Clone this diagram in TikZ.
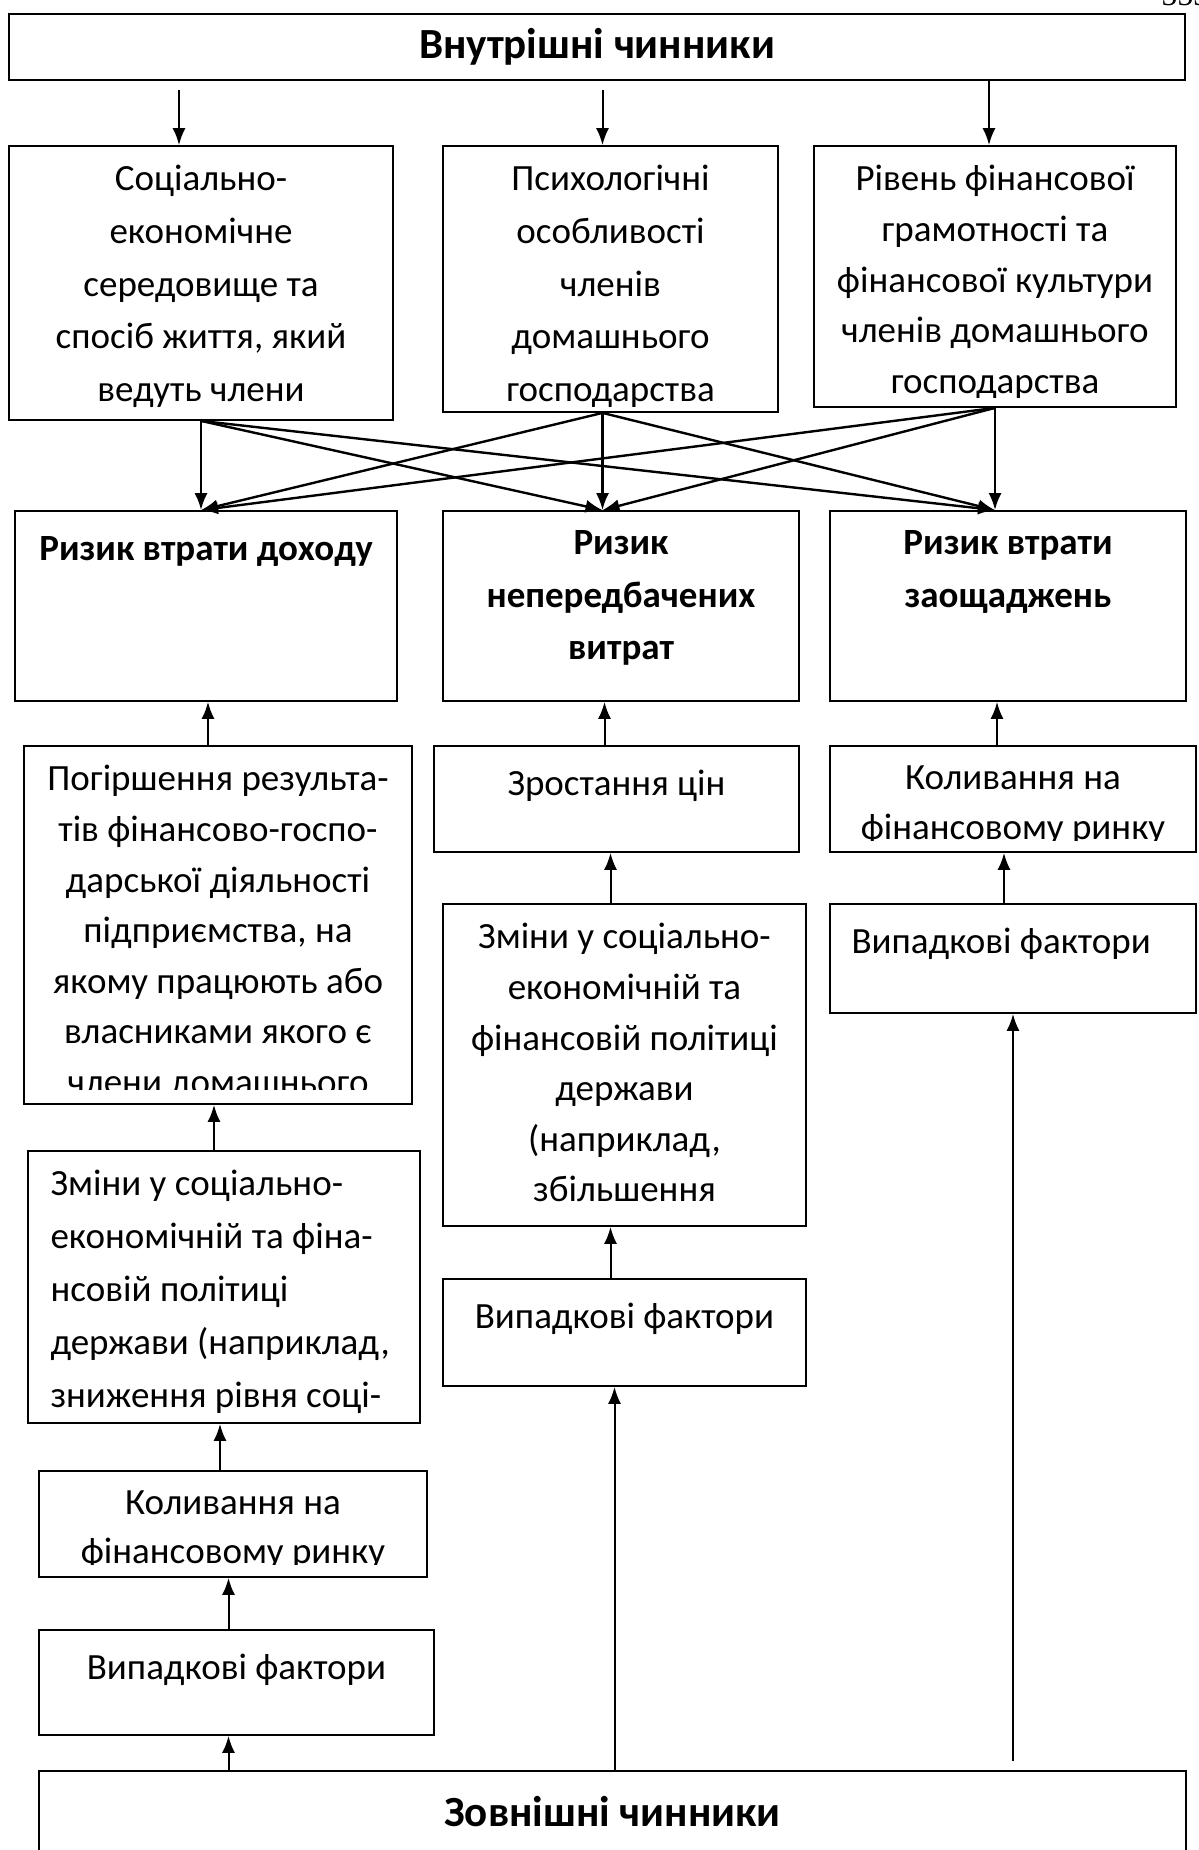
\documentclass[tikz,border=0pt]{standalone}
\usepackage{fontspec}
\setmainfont{Carlito}
\newfontfamily\pagefont{Liberation Serif}
\usetikzlibrary{fit,arrows.meta}

\begin{document}
\begin{tikzpicture}[x=0.5pt, y=-0.5pt,
    box/.style={draw, line width=0.9pt, inner sep=0pt},
    txt/.style={anchor=north, align=center, inner sep=0pt, yshift=-10pt,
        font=\fontsize{18.5pt}{#1}\selectfont,
        execute at begin node={\rule{0pt}{15pt}}},
    txt/.default=26.3pt,
    ttl/.style={txt, font=\fontsize{18.5pt}{26.3pt}\selectfont\bfseries},
    head/.style={font=\fontsize{21.5pt}{26pt}\selectfont\bfseries},
    arr/.style={line width=1pt, -{Latex[length=8.5pt,width=6.5pt]}},
    cross/.style={arr, line width=1.2pt}]
    \useasboundingbox (0,0) rectangle (1198,1850);

    \node[anchor=base west, inner sep=0pt, font=\pagefont\fontsize{16pt}{16pt}\selectfont] (pagenum) at (1161,6) {553};

    % --------
    % Internal factors
    % --------
    \node[box, fit={(9,14) (1185,80)}] (inner) {};
    \node[head] at (inner.center) {Внутрішні чинники};

    \node[box, fit={(9,146) (393,420)}] (socio) {};
    \node[txt] at (socio.north) {Соціально-\\економічне\\середовище та\\спосіб життя, який\\ведуть члени};

    \node[box, fit={(443,146) (778,412)}] (psycho) {};
    \begin{scope}
        \clip (psycho.north west) rectangle ([yshift=3pt]psycho.south east);
        \node[txt] at (psycho.north) {Психологічні\\особливості\\членів\\домашнього\\господарства};
    \end{scope}

    \node[box, fit={(814,146) (1176,407)}] (literacy) {};
    \begin{scope}
        \clip (literacy.north west) rectangle ([yshift=5pt]literacy.south east);
        \node[txt=25.3pt] at (literacy.north) {Рівень фінансової\\грамотності та\\фінансової культури\\членів домашнього\\господарства};
    \end{scope}

    % --------
    % Risks
    % --------
    \node[box, fit={(15,511) (397,701)}] (income) {};
    \node[ttl] at (income.north) {Ризик втрати доходу};

    \node[box, fit={(443,511) (799,701)}] (unexp) {};
    \node[ttl] at (unexp.north) {Ризик\\непередбачених\\витрат};

    \node[box, fit={(830,511) (1186,701)}] (saving) {};
    \node[ttl] at (saving.north) {Ризик втрати\\заощаджень};

    % Draw lines
    \draw[arr, shorten <=4.5pt] ([xshift=-11pt]socio.north |- inner.south) -- ([xshift=-11pt]socio.north);
    \draw[arr, shorten <=4.5pt] ([xshift=-4pt]psycho.north |- inner.south) -- ([xshift=-4pt]psycho.north);
    \draw[arr] ([xshift=-3pt]literacy.north |- inner.south) -- ([xshift=-3pt]literacy.north);

    \draw[cross] (socio.south) -- (socio.south |- income.north);
    \draw[cross] (socio.south) -- ([xshift=-4pt]psycho.south |- unexp.north);
    \draw[cross] (socio.south) -- (literacy.south |- saving.north);
    \draw[cross] ([xshift=-4pt]psycho.south) -- (socio.south |- income.north);
    \draw[cross] ([xshift=-4pt]psycho.south) -- ([xshift=-4pt]psycho.south |- unexp.north);
    \draw[cross] ([xshift=-4pt]psycho.south) -- (literacy.south |- saving.north);
    \draw[cross] (literacy.south) -- (socio.south |- income.north);
    \draw[cross] (literacy.south) -- ([xshift=-4pt]psycho.south |- unexp.north);
    \draw[cross] (literacy.south) -- (literacy.south |- saving.north);

    % --------
    % Income column
    % --------
    \node[box, fit={(24,746) (412,1104)}] (decline) {};
    \begin{scope}
        \clip (decline.north west) rectangle ([yshift=7.5pt]decline.south east);
        \node[txt=25.3pt] at (decline.north) {Погіршення результа-\\тів фінансово-госпо-\\дарської діяльності\\підприємства, на\\якому працюють або\\власниками якого є\\члени домашнього};
    \end{scope}

    \node[box, fit={(28,1151) (420,1423)}] (policyL) {};
    \node[txt=26.4pt, anchor=north west, align=left] at ([xshift=11.5pt]policyL.north west) {Зміни у соціально-\\економічній та фіна-\\нсовій політиці\\держави (наприклад,\\зниження рівня соці-};

    \node[box, fit={(39,1471) (427,1577)}] (marketL) {};
    \begin{scope}
        \clip (marketL.north west) rectangle ([yshift=6.5pt]marketL.south east);
        \node[txt=24.8pt] at (marketL.north) {Коливання на\\фінансовому ринку};
    \end{scope}

    \node[box, fit={(39,1630) (434,1735)}] (randomL) {};
    \node[txt] at (randomL.north) {Випадкові фактори};

    % --------
    % Expenses column
    % --------
    \node[box, fit={(434,746) (799,852)}] (prices) {};
    \node[txt] at (prices.north) {Зростання цін};

    \node[box, fit={(443,904) (806,1226)}] (policyM) {};
    \node[txt=25.3pt] at (policyM.north) {Зміни у соціально-\\економічній та\\фінансовій політиці\\держави\\(наприклад,\\збільшення};

    \node[box, fit={(443,1279) (806,1386)}] (randomM) {};
    \node[txt] at (randomM.north) {Випадкові фактори};

    % --------
    % Savings column
    % --------
    \node[box, fit={(830,746) (1196,852)}] (marketR) {};
    \begin{scope}
        \clip (marketR.north west) rectangle ([yshift=6pt]marketR.south east);
        \node[txt=25pt] at (marketR.north) {Коливання на\\фінансовому ринку};
    \end{scope}

    \node[box, fit={(830,904) (1196,1013)}] (randomR) {};
    \node[txt, anchor=north west, align=left] at ([xshift=11pt]randomR.north west) {Випадкові фактори};

    % --------
    % External factors
    % --------
    \node[box, fit={(39,1771) (1186,1880)}] (outer) {};
    \node[head] at ([yshift=-20.5pt]outer.north) {Зовнішні чинники};

    % Draw lines
    \draw[arr] ([xshift=-5pt]decline.north) -- ([xshift=-5pt]decline.north |- income.south);
    \draw[arr] ([xshift=-6pt]prices.north) -- ([xshift=-6pt]prices.north |- unexp.south);
    \draw[arr] ([xshift=-8pt]marketR.north) -- ([xshift=-8pt]marketR.north |- saving.south);

    \draw[arr] ([xshift=-5pt]policyL.north) -- ([xshift=-5pt]policyL.north |- decline.south);
    \draw[arr] ([xshift=-6.5pt]marketL.north) -- ([xshift=-6.5pt]marketL.north |- policyL.south);
    \draw[arr] ([xshift=-4pt]randomL.north) -- ([xshift=-4pt]randomL.north |- marketL.south);
    \draw[arr] ([xshift=-4pt]outer.north -| randomL.south) -- ([xshift=-4pt]randomL.south);

    \draw[arr] ([xshift=-7pt]policyM.north) -- ([xshift=-7pt]policyM.north |- prices.south);
    \draw[arr] ([xshift=-7pt]randomM.north) -- ([xshift=-7pt]randomM.north |- policyM.south);
    \draw[arr] ([xshift=-5pt]outer.north -| randomM.south) -- ([xshift=-5pt]randomM.south);

    \draw[arr] ([xshift=-4.5pt]randomR.north) -- ([xshift=-4.5pt]randomR.north |- marketR.south);
    \draw[arr] ([yshift=4.5pt]outer.north -| randomR.south) -- (randomR.south);

\end{tikzpicture}
\end{document}
